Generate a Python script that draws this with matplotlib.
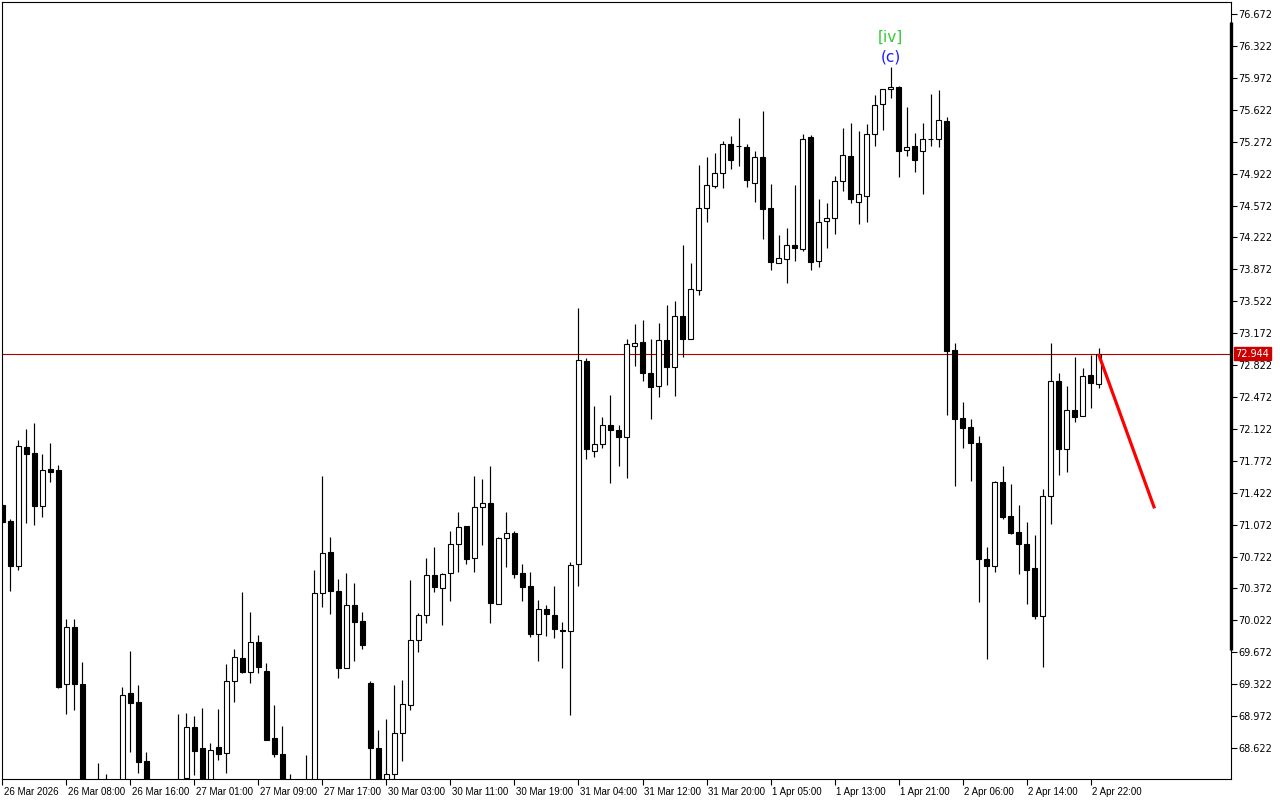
import matplotlib
matplotlib.use("Agg")
import matplotlib.pyplot as plt
import matplotlib.transforms as mtransforms
import numpy as np

# ---------------- data (H1 candles, price values) ----------------
opens = [71.287, 71.112, 70.618, 71.923, 71.857, 71.276, 71.682, 71.671, 69.324, 69.949,
         69.324, 68.15, 68.10, 68.18, 68.12, 68.10, 69.226, 69.127, 68.480, 68.15,
         68.10, 68.18, 68.15, 68.29, 68.853, 68.622, 68.20, 68.633, 68.567, 69.357,
         69.609, 69.456, 69.785, 69.467, 68.732, 68.556, 68.22, 68.15, 68.20, 68.26,
         70.322, 70.772, 70.344, 69.499, 70.190, 70.015, 69.335, 68.622, 68.20, 68.337,
         68.787, 69.094, 69.807, 70.081, 70.519, 70.376, 70.541, 70.859, 71.057, 70.706,
         71.265, 71.309, 70.201, 70.925, 70.980, 70.541, 70.398, 69.872, 70.146, 70.081,
         69.916, 69.905, 70.640, 72.866, 71.879, 71.956, 72.164, 72.110, 72.033, 73.031,
         73.075, 72.735, 72.592, 73.097, 72.801, 73.360, 73.108, 73.645, 74.545, 74.786,
         74.928, 75.246, 75.224, 75.213, 74.818, 75.104, 74.545, 73.941, 73.985, 74.139,
         74.095, 75.323, 73.963, 74.402, 74.435, 74.840, 75.115, 74.610, 74.676, 75.356,
         75.685, 75.849, 75.871, 75.180, 75.224, 75.169, 75.301, 75.301, 75.498, 72.987,
         72.241, 72.143, 71.967, 70.695, 70.618, 71.539, 71.167, 70.991, 70.859, 70.596,
         70.070, 71.386, 72.647, 71.901, 72.329, 72.263, 72.713, 72.614]
highs = [71.298, 71.134, 72.000, 72.121, 72.187, 71.846, 71.967, 71.725, 70.037, 70.037,
         69.565, 68.22, 68.461, 68.337, 68.20, 69.291, 69.686, 69.313, 68.579, 68.22,
         68.24, 68.25, 68.995, 69.006, 68.973, 69.061, 68.677, 69.050, 69.544, 69.708,
         70.333, 70.114, 69.861, 69.554, 69.094, 68.864, 68.337, 68.25, 68.545, 70.574,
         71.605, 70.936, 70.475, 70.541, 70.431, 70.114, 69.357, 68.819, 68.940, 69.313,
         69.368, 70.465, 70.103, 70.705, 70.826, 70.541, 71.002, 71.211, 71.057, 71.605,
         71.572, 71.715, 70.936, 71.211, 71.002, 70.640, 70.552, 70.245, 70.190, 70.398,
         70.004, 70.662, 73.448, 72.899, 72.373, 72.252, 72.494, 72.164, 73.108, 73.272,
         73.316, 73.108, 73.283, 73.480, 73.524, 74.139, 73.941, 75.016, 75.104, 75.148,
         75.279, 75.334, 75.531, 75.246, 75.169, 75.608, 74.808, 74.248, 74.325, 74.797,
         75.356, 75.345, 74.643, 74.599, 74.895, 75.422, 75.477, 75.389, 75.466, 75.784,
         75.849, 76.091, 75.882, 75.652, 75.367, 75.477, 75.795, 75.839, 75.542, 73.064,
         72.417, 72.230, 72.044, 70.826, 71.550, 71.715, 71.517, 71.287, 71.101, 70.958,
         71.462, 73.064, 72.735, 72.592, 72.910, 72.790, 72.932, 73.009]
lows = [71.090, 70.343, 70.574, 71.090, 71.068, 71.156, 71.539, 69.280, 68.995, 69.039,
        68.10, 67.95, 67.98, 68.00, 67.95, 68.02, 68.579, 68.348, 68.05, 68.00,
        68.02, 68.05, 68.05, 68.20, 68.326, 68.15, 68.12, 68.490, 68.348, 69.127,
        69.44, 69.335, 69.444, 68.710, 68.523, 68.15, 68.08, 68.05, 68.10, 68.20,
        70.168, 70.091, 69.390, 69.499, 69.576, 69.708, 68.25, 68.12, 68.15, 68.27,
        68.480, 69.039, 69.675, 69.993, 70.333, 69.971, 70.234, 70.552, 70.640, 70.552,
        70.848, 69.993, 70.201, 70.607, 70.486, 70.234, 69.839, 69.576, 69.850, 69.828,
        69.499, 68.984, 70.398, 71.792, 71.813, 71.912, 71.528, 71.715, 71.583, 72.812,
        72.647, 72.230, 72.472, 72.603, 72.483, 72.910, 73.108, 73.590, 74.391, 74.764,
        74.764, 74.972, 75.005, 74.775, 74.610, 74.204, 73.864, 73.941, 73.722, 73.963,
        74.073, 73.864, 73.897, 74.106, 74.259, 74.731, 74.599, 74.369, 74.391, 75.224,
        75.400, 75.751, 74.884, 75.115, 74.939, 74.698, 75.224, 75.213, 72.274, 71.495,
        71.912, 71.550, 70.223, 69.598, 70.552, 71.134, 70.969, 70.530, 70.201, 70.037,
        69.510, 71.079, 71.616, 71.649, 72.197, 72.263, 72.351, 72.570]
closes = [71.101, 70.618, 71.934, 71.846, 71.276, 71.671, 71.649, 69.291, 69.949, 69.324,
          68.15, 68.05, 68.18, 68.12, 68.05, 69.204, 69.116, 68.469, 68.15, 68.10,
          68.18, 68.12, 68.22, 68.853, 68.584, 68.20, 68.600, 68.556, 69.357, 69.620,
          69.456, 69.785, 69.511, 68.710, 68.556, 68.20, 68.15, 68.20, 68.26, 70.322,
          70.761, 70.344, 69.499, 70.190, 70.004, 69.752, 68.622, 68.20, 68.337, 68.787,
          69.105, 69.807, 70.081, 70.519, 70.387, 70.530, 70.859, 71.046, 70.695, 71.265,
          71.309, 70.212, 70.925, 70.980, 70.530, 70.387, 69.872, 70.146, 70.092, 69.927,
          69.905, 70.629, 72.877, 71.901, 71.956, 72.164, 72.110, 72.033, 73.053, 73.064,
          72.735, 72.581, 73.097, 72.801, 73.360, 73.108, 73.656, 74.545, 74.797, 74.928,
          75.246, 75.071, 75.220, 74.851, 75.104, 74.534, 73.952, 73.996, 74.139, 74.106,
          75.301, 73.952, 74.391, 74.435, 74.840, 75.126, 74.643, 74.698, 75.356, 75.674,
          75.849, 75.871, 75.169, 75.213, 75.071, 75.301, 75.298, 75.509, 72.976, 72.230,
          72.132, 71.967, 70.695, 70.618, 71.539, 71.156, 70.980, 70.859, 70.574, 70.070,
          71.386, 72.647, 71.901, 72.329, 72.252, 72.702, 72.625, 72.944]

price_ticks = [68.622, 68.972, 69.322, 69.672, 70.022, 70.372, 70.722, 71.072, 71.422,
               71.772, 72.122, 72.472, 72.822, 73.172, 73.522, 73.872, 74.222, 74.572,
               74.922, 75.272, 75.622, 75.972, 76.322, 76.672]
time_tick_bars = [0, 8, 16, 24, 32, 40, 48, 56, 64, 72, 80, 88, 96, 104, 112, 120, 128, 136]
time_tick_labels = ["26 Mar 2026", "26 Mar 08:00", "26 Mar 16:00", "27 Mar 01:00",
                    "27 Mar 09:00", "27 Mar 17:00", "30 Mar 03:00", "30 Mar 11:00",
                    "30 Mar 19:00", "31 Mar 04:00", "31 Mar 12:00", "31 Mar 20:00",
                    "1 Apr 05:00", "1 Apr 13:00", "1 Apr 21:00", "2 Apr 06:00",
                    "2 Apr 14:00", "2 Apr 22:00"]
current_price = 72.944
wave_bar = 111
wave_labels = ["[iv]", "(c)"]
forecast_bars = [137, 144]
forecast_prices = [72.944, 71.25]
y_range = [68.282, 76.804]

# ---------------- figure ----------------
fig = plt.figure(figsize=(12.8, 8.0), dpi=100)
fig.patch.set_facecolor("white")
ax = fig.add_axes([2 / 1280, 21 / 800, 1229 / 1280, 777 / 800])
ax.set_facecolor("white")

o = np.array(opens); h = np.array(highs); l = np.array(lows); c = np.array(closes)
idx = np.arange(len(o))
up = c >= o

ax.vlines(idx, l, h, color="black", linewidth=0.85, zorder=2)
body_h = np.maximum(np.abs(c - o), 0.006)
ax.bar(idx, body_h, bottom=np.minimum(o, c), width=0.52,
       color=np.where(up, "white", "black"), edgecolor="black", linewidth=0.8, zorder=3)

# bid line
ax.axhline(current_price, color="#b00000", linewidth=0.8, zorder=1)

# forecast line
ax.plot(forecast_bars, forecast_prices, color="#ff0000", linewidth=2.3,
        solid_capstyle="butt", zorder=4)

# wave labels
ax.annotate(wave_labels[1], xy=(wave_bar, h[wave_bar]), xytext=(0, 1.5),
            textcoords="offset points", ha="center", va="bottom",
            color="#1a1aff", fontsize=11, zorder=5)
ax.annotate(wave_labels[0], xy=(wave_bar, h[wave_bar]), xytext=(0, 16),
            textcoords="offset points", ha="center", va="bottom",
            color="#33cc33", fontsize=11, zorder=5)

ax.set_xlim(-0.06, 153.56)
ax.set_ylim(*y_range)

# axes styling
for s in ax.spines.values():
    s.set_color("black")
    s.set_linewidth(0.8)

ax.yaxis.tick_right()
ax.set_yticks(price_ticks)
ax.set_yticklabels([f"{v:.3f}" for v in price_ticks])
ax.tick_params(axis="y", direction="out", length=4, width=0.8, pad=1.5,
               labelsize=7, colors="black")

ax.set_xticks(time_tick_bars)
ax.set_xticklabels(time_tick_labels, ha="left", family="Liberation Sans", fontsize=7)
ax.tick_params(axis="x", direction="out", length=4, width=0.8, pad=1.5,
               colors="black")
offset = mtransforms.ScaledTranslation(1.5 / 100, 0, fig.dpi_scale_trans)
for lab in ax.get_xticklabels():
    lab.set_transform(lab.get_transform() + offset)

# thick scroll marker on right edge
ax.plot([1, 1], [0.166, 0.974], transform=ax.transAxes, color="black",
        linewidth=2.4, clip_on=False, zorder=6, solid_capstyle="butt")

# current price label
trans = mtransforms.blended_transform_factory(ax.transAxes, ax.transData)
ax.text(1.0035, current_price, f"{current_price:.3f}", transform=trans,
        ha="left", va="center", fontsize=7, color="white", zorder=7,
        bbox=dict(boxstyle="square,pad=0.15", facecolor="#cc0000", edgecolor="#cc0000"))

fig.savefig("out.png", dpi=100, facecolor="white")
